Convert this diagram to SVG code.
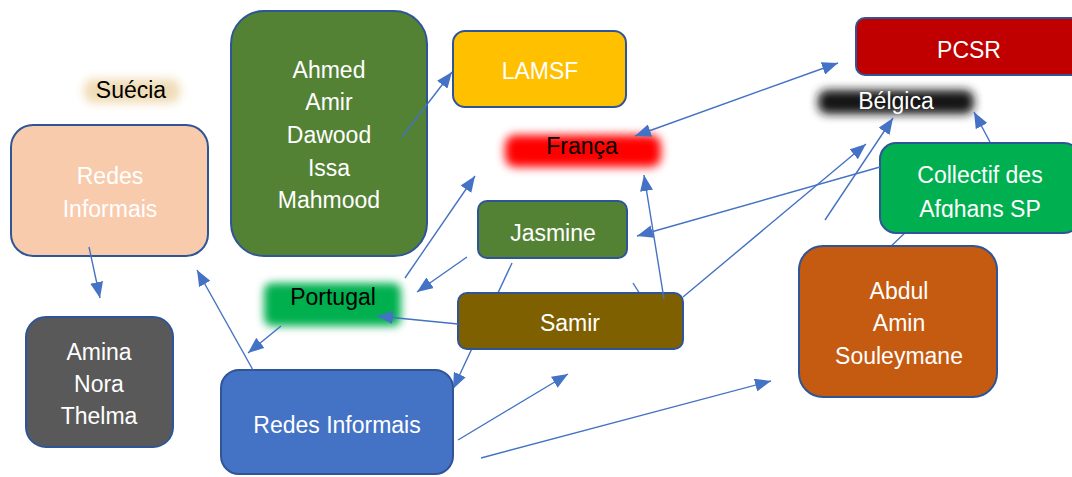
<svg xmlns="http://www.w3.org/2000/svg" width="1072" height="477" viewBox="0 0 1072 477">
<style>
.box{stroke:#2f5597;stroke-width:2}
.t{font-family:"Liberation Sans",Arial,sans-serif;font-size:23px;text-anchor:middle}
.w{fill:#ffffff}
.k{fill:#000000}
.c{stroke:#4472c4;stroke-width:1.4;fill:none}
.a{marker-end:url(#ah)}
</style>
<defs>
<marker id="ah" markerUnits="userSpaceOnUse" markerWidth="17" markerHeight="13" refX="16" refY="6.5" orient="auto-start-reverse">
<path d="M0,0 L16,6.5 L0,13 z" fill="#4472c4"/>
</marker>
<filter id="g5" x="-30%" y="-80%" width="160%" height="260%"><feGaussianBlur stdDeviation="5"/></filter>
<filter id="g4" x="-30%" y="-80%" width="160%" height="260%"><feGaussianBlur stdDeviation="4"/></filter>
<clipPath id="colclip"><rect x="880" y="143" width="192" height="75"/></clipPath>
</defs>
<rect width="1072" height="477" fill="#ffffff"/>

<g id="connectors-under">
<line class="c a" x1="512" y1="263" x2="453" y2="389"/>
<line class="c" x1="633" y1="283" x2="645" y2="302"/>
<line class="c" x1="885" y1="252" x2="910" y2="228"/>
</g>

<g id="suecia">
<rect x="84" y="79" width="96" height="24" rx="9" fill="#f0dcb6" filter="url(#g5)"/>
<text class="t k" x="131" y="98">Suécia</text>
</g>
<g id="redes-peach">
<rect class="box" x="11" y="125" width="197" height="131" rx="22" fill="#f8cbad"/>
<text class="t w" x="110" y="184">Redes</text>
<text class="t w" x="110" y="217">Informais</text>
</g>
<g id="amina">
<rect class="box" x="26" y="317" width="147" height="130" rx="20" fill="#595959"/>
<text class="t w" x="99" y="360">Amina</text>
<text class="t w" x="99" y="392">Nora</text>
<text class="t w" x="99" y="424">Thelma</text>
</g>
<g id="ahmed">
<rect class="box" x="231" y="11" width="196" height="245" rx="33" fill="#548235"/>
<text class="t w" x="329" y="78">Ahmed</text>
<text class="t w" x="329" y="110">Amir</text>
<text class="t w" x="329" y="143">Dawood</text>
<text class="t w" x="329" y="176">Issa</text>
<text class="t w" x="329" y="208">Mahmood</text>
</g>
<g id="lamsf">
<rect class="box" x="453" y="31" width="173" height="76" rx="12" fill="#ffc000"/>
<text class="t w" x="540" y="79">LAMSF</text>
</g>
<g id="pcsr">
<rect class="box" x="856" y="18" width="230" height="57" rx="9" fill="#c00000"/>
<text class="t w" x="969" y="58">PCSR</text>
</g>
<g id="belgica">
<rect x="818" y="90" width="156" height="24" rx="9" fill="#151515" filter="url(#g5)"/>
<text class="t w" x="896" y="109">Bélgica</text>
</g>
<g id="franca">
<rect x="505" y="135" width="156" height="32" rx="10" fill="#ff0000" filter="url(#g5)"/>
<text class="t k" x="582" y="154">França</text>
</g>
<g id="collectif">
<rect class="box" x="880" y="143" width="200" height="90" rx="16" fill="#00b050"/>
<g clip-path="url(#colclip)">
<text class="t w" x="980" y="183">Collectif des</text>
<text class="t w" x="980" y="217">Afghans SP</text>
</g>
</g>
<g id="jasmine">
<rect class="box" x="478" y="201" width="149" height="57" rx="9" fill="#548235"/>
<text class="t w" x="553" y="241">Jasmine</text>
</g>
<g id="portugal">
<rect x="264" y="283" width="137" height="43" rx="8" fill="#00b050" filter="url(#g4)"/>
<text class="t k" x="333" y="305">Portugal</text>
</g>
<g id="samir">
<rect class="box" x="458" y="293" width="225" height="56" rx="9" fill="#7f6000"/>
<text class="t w" x="570" y="331">Samir</text>
</g>
<g id="redes-blue">
<rect class="box" x="221" y="370" width="232" height="104" rx="18" fill="#4472c4"/>
<text class="t w" x="337" y="433">Redes Informais</text>
</g>
<g id="abdul">
<rect class="box" x="799" y="246" width="198" height="151" rx="24" fill="#c55a11"/>
<text class="t w" x="899" y="299">Abdul</text>
<text class="t w" x="899" y="331">Amin</text>
<text class="t w" x="899" y="364">Souleymane</text>
</g>

<g id="connectors">
<line class="c a" x1="402" y1="137" x2="452" y2="72"/>
<line class="c a" x1="635" y1="136" x2="838" y2="63" style="marker-start:url(#ah)"/>
<line class="c a" x1="89" y1="247" x2="100" y2="298"/>
<line class="c a" x1="253" y1="370" x2="197" y2="270"/>
<line class="c a" x1="281" y1="326" x2="248" y2="353"/>
<line class="c a" x1="405" y1="278" x2="475" y2="176"/>
<line class="c a" x1="467" y1="257" x2="417" y2="292"/>
<line class="c a" x1="458" y1="324" x2="377" y2="316"/>
<line class="c a" x1="664" y1="299" x2="644" y2="175"/>
<line class="c a" x1="683" y1="297" x2="866" y2="144"/>
<line class="c a" x1="880" y1="167" x2="637" y2="236"/>
<line class="c a" x1="825" y1="220" x2="893" y2="118"/>
<line class="c a" x1="990" y1="142" x2="974" y2="112"/>
<line class="c a" x1="458" y1="440" x2="568" y2="374"/>
<line class="c a" x1="481" y1="458" x2="771" y2="381"/>
</g>
</svg>
